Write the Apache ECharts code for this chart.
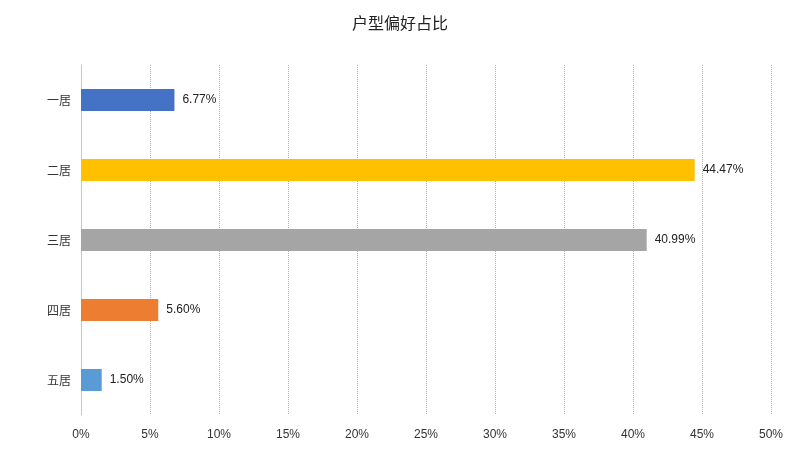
<!DOCTYPE html>
<html><head><meta charset="utf-8">
<script src="https://cdn.jsdelivr.net/npm/echarts@6/dist/echarts.min.js"></script>
<style>html,body{margin:0;padding:0;background:#fff}#c{width:800px;height:471px}</style>
</head><body><div id="c"></div>
<script>
const categories = ['一居','二居','三居','四居','五居'];
const values = [6.77, 44.47, 40.99, 5.60, 1.50];
const colors = ['#4472C4','#FFC000','#A5A5A5','#ED7D31','#5B9BD5'];
const chart = echarts.init(document.getElementById('c'));
chart.setOption({
  title:{text:'户型偏好占比',left:'center',top:10,textStyle:{fontSize:16,fontWeight:'normal',color:'#222',fontFamily:'Noto Sans CJK SC'}},
  grid:{left:81,right:29,top:65,bottom:56},
  xAxis:{type:'value',min:0,max:50,interval:5,
    axisLabel:{formatter:'{value}%',color:'#333',fontSize:12,margin:14},
    axisLine:{show:false},axisTick:{show:false},
    splitLine:{lineStyle:{type:'dotted',color:'#9db0cc'}}},
  yAxis:{type:'category',inverse:true,data:categories,
    axisLabel:{color:'#333',fontSize:12,fontFamily:'Noto Sans CJK SC',margin:10},
    axisLine:{lineStyle:{color:'#c8c8c8'}},axisTick:{show:false}},
  series:[{type:'bar',barWidth:22,
    data:values.map((v,i)=>({value:v,itemStyle:{color:colors[i]}})),
    label:{show:true,position:'right',formatter:p=>p.value.toFixed(2)+'%',color:'#222',fontSize:12,distance:8}}]
});
</script></body></html>
